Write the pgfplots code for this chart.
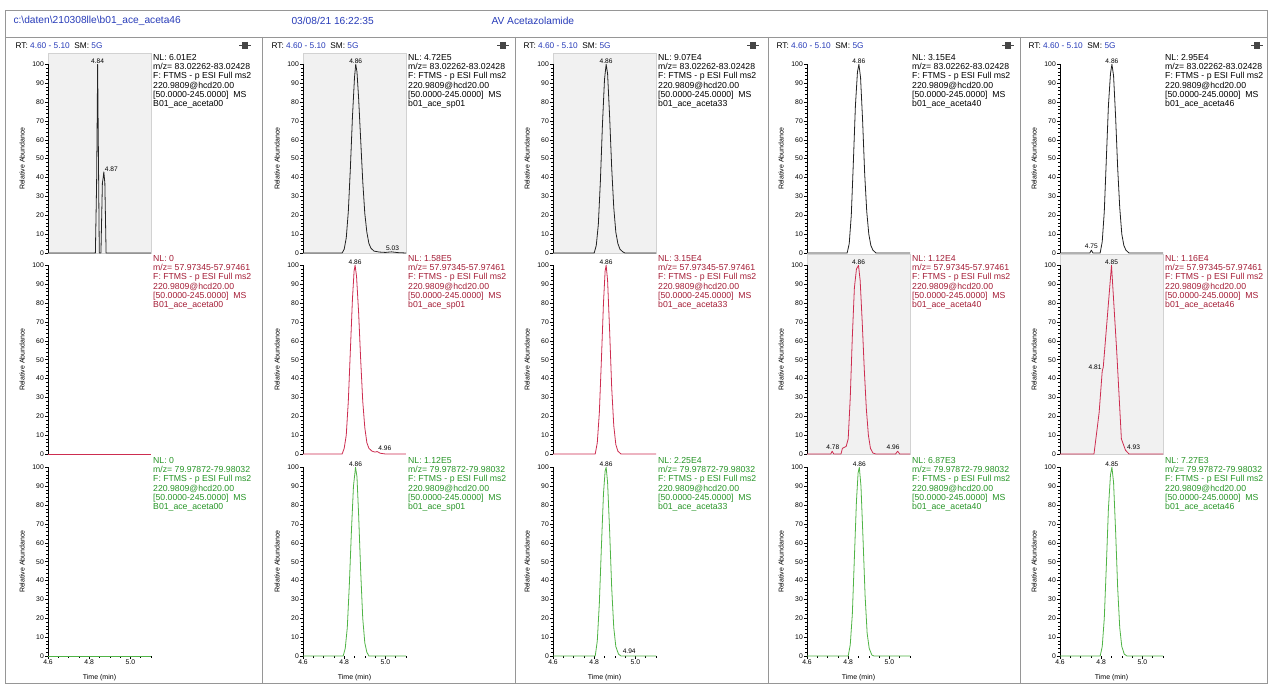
\documentclass[border=0pt]{standalone}
\usepackage{fontspec}
\setmainfont{Liberation Sans}
\usepackage{pgfplots}
\pgfplotsset{compat=1.18}

\definecolor{cblack}{RGB}{35,35,35}
\definecolor{cred}{RGB}{205,45,80}
\definecolor{cgreen}{RGB}{80,180,70}
\definecolor{tred}{RGB}{165,30,55}
\definecolor{tgreen}{RGB}{40,150,40}
\definecolor{tblue}{RGB}{40,60,185}
\definecolor{shade}{RGB}{241,241,241}
\definecolor{framec}{RGB}{150,150,150}

\newcommand{\infofont}{\fontsize{8.7}{9.3}\selectfont}
\newcommand{\pkfont}{\fontsize{6.6}{7}\selectfont}
\newcommand{\tkfont}{\fontsize{6.8}{7}\selectfont}
\newcommand{\ylfont}{\fontsize{7}{8}\selectfont}
\newcommand{\rtfont}{\fontsize{8.3}{9}\selectfont}
\newcommand{\hdrfont}{\fontsize{10.2}{11}\selectfont}

\pgfplotsset{
  chrom/.style={
    scale only axis, width=103pt, height=200pt,
    xmin=4.6, xmax=5.1, ymin=0, ymax=106,
    axis lines=left, axis line style={draw=none},
    clip=false, anchor=south west,
    ytick={0,10,...,100}, minor ytick={0,2,...,100},
    tick align=outside,
    major tick length=3pt, minor tick length=1.6pt,
    tick style={black, line width=0.5pt},
    /pgf/number format/assume math mode=true,
    yticklabel style={font=\tkfont, inner sep=1pt},
    xticklabel style={font=\tkfont, inner sep=1pt},
    xtick=\empty,
  },
  sel/.style={axis background/.style={fill=shade, draw=gray!35}},
  bot/.style={xtick={4.6,4.8,5.0}, xticklabels={4.6,4.8,5.0},
    minor xtick={4.65,4.7,4.75,4.85,4.9,4.95,5.05,5.1}},
}

\newcommand{\chrom}[6][]{%
\begin{axis}[chrom, at={(#2pt,#3pt)}, #1]
\draw[black, line width=0.6pt] (axis cs:4.6,0) -- (axis cs:4.6,100);
\addplot[#4, line width=0.8pt, line join=round, mark=none] coordinates {#5};
\node[rotate=90, font=\ylfont] at ([xshift=-26pt]axis cs:4.6,50) {Relative Abundance};
#6
\end{axis}}

\newcommand{\info}[4]{\node[anchor=north west, align=left, inner sep=0pt, text=#4, font=\infofont] at ([xshift=2pt,yshift=-1pt]rel axis cs:1,1) {NL: #1\\ m/z= #2\\ F: FTMS - p ESI Full ms2\\ 220.9809@hcd20.00\\{}[50.0000-245.0000]\ \ MS\\ #3};}
\newcommand{\pk}[3][south]{\node[anchor=#1, inner sep=0.6pt, font=\pkfont] at (axis cs:#2) {#3};}
\newcommand{\tm}{\node[font=\ylfont] at ([yshift=-22pt]axis cs:4.85,0) {Time (min)};}
\newcommand{\rt}[1]{\node[anchor=west, font=\rtfont] at (#1pt,-46pt) {RT: \textcolor{tblue}{4.60 - 5.10}\ \ SM: \textcolor{tblue}{5G}};}
\newcommand{\pin}[1]{%
  \fill[gray!55!black] (#1pt-3pt,-42pt) rectangle (#1pt+2pt,-49pt);
  \draw[gray!55!black, line width=1.2pt] (#1pt-6pt,-45.5pt) -- (#1pt+6pt,-45.5pt);
  \draw[gray!55!black, line width=0.8pt] (#1pt+2pt,-42pt) -- (#1pt+2pt,-49pt);}

\begin{document}
\begin{tikzpicture}
\useasboundingbox (0pt,0pt) rectangle (1270pt,-684pt);
\fill[white] (0pt,0pt) rectangle (1270pt,-684pt);
% frames
\draw[framec, line width=0.7pt] (5pt,-10pt) rectangle (1267pt,-683pt);
\draw[framec, line width=0.7pt] (5pt,-37pt) -- (1267pt,-37pt);
\foreach \xx in {262,515,768,1020} {\draw[framec, line width=0.7pt] (\xx pt,-37pt) -- (\xx pt,-683pt);}
% header
\node[anchor=west, text=tblue, font=\hdrfont] at (10pt,-21pt) {c:\textbackslash daten\textbackslash 210308lle\textbackslash b01\_ace\_aceta46};
\node[anchor=west, text=tblue, font=\hdrfont] at (288pt,-21pt) {03/08/21 16:22:35};
\node[anchor=west, text=tblue, font=\hdrfont] at (488pt,-21pt) {AV Acetazolamide};
\rt{12}\rt{268}\rt{520}\rt{773}\rt{1025}
\pin{245}\pin{503}\pin{753}\pin{1008}\pin{1257}

%%%%%%%%%%%%%%%% Column 1
\chrom[sel]{48}{-253}{cblack}{(4.60,0)(4.830,0)(4.836,37)(4.839,74)(4.841,100)(4.843,74)(4.846,37)(4.849,0)(4.857,0)(4.864,37)(4.868,40)(4.871,43)(4.876,37)(4.882,0)(5.10,0)}
{\info{6.01E2}{83.02262-83.02428}{B01\_ace\_aceta00}{black}
 \pk{4.841,100}{4.84}\pk[south west]{4.872,43}{4.87}}
\chrom{48}{-454}{cred}{(4.60,0)(5.10,0)}
{\info{0}{57.97345-57.97461}{B01\_ace\_aceta00}{tred}}
\chrom[bot]{48}{-656}{cgreen}{(4.60,0)(5.10,0)}
{\info{0}{79.97872-79.98032}{B01\_ace\_aceta00}{tgreen}\tm}

%%%%%%%%%%%%%%%% Column 2
\chrom[sel]{303}{-253}{cblack}{(4.60,0)(4.790,0)(4.800,2)(4.810,8)(4.820,22)(4.830,45)(4.840,72)(4.850,93)(4.856,100)(4.862,96)(4.870,82)(4.880,60)(4.890,38)(4.900,21)(4.910,11)(4.920,5)(4.930,2.5)(4.945,1)(4.970,0.5)(5.000,0.3)(5.030,0.6)(5.060,0.2)(5.10,0)}
{\info{4.72E5}{83.02262-83.02428}{b01\_ace\_sp01}{black}
 \pk{4.856,100}{4.86}\pk{5.035,1}{5.03}}
\chrom{303}{-454}{cred}{(4.60,0)(4.790,0)(4.800,3)(4.810,10)(4.820,28)(4.830,55)(4.840,82)(4.848,97)(4.853,100)(4.860,94)(4.870,75)(4.880,50)(4.890,28)(4.900,14)(4.910,6)(4.920,3)(4.935,1.5)(4.950,1)(4.960,1.3)(4.975,0.4)(5.000,0)(5.10,0)}
{\info{1.58E5}{57.97345-57.97461}{b01\_ace\_sp01}{tred}
 \pk{4.853,100}{4.86}\pk[south west]{4.962,1.5}{4.96}}
\chrom[bot]{303}{-656}{cgreen}{(4.60,0)(4.795,0)(4.805,4)(4.815,15)(4.825,38)(4.835,66)(4.845,90)(4.855,100)(4.862,95)(4.870,75)(4.880,45)(4.890,20)(4.900,7)(4.910,2)(4.920,0)(5.10,0)}
{\info{1.12E5}{79.97872-79.98032}{b01\_ace\_sp01}{tgreen}
 \pk{4.855,100}{4.86}\tm}

%%%%%%%%%%%%%%%% Column 3
\chrom[sel]{553}{-253}{cblack}{(4.60,0)(4.800,0)(4.810,4)(4.820,15)(4.830,38)(4.840,68)(4.850,92)(4.858,100)(4.865,95)(4.875,72)(4.885,45)(4.895,24)(4.905,11)(4.915,5)(4.925,2)(4.940,0.5)(4.950,0)(5.10,0)}
{\info{9.07E4}{83.02262-83.02428}{b01\_ace\_aceta33}{black}
 \pk{4.858,100}{4.86}}
\chrom{553}{-454}{cred}{(4.60,0)(4.805,0)(4.815,6)(4.825,22)(4.835,50)(4.845,80)(4.853,97)(4.858,100)(4.865,92)(4.875,65)(4.885,35)(4.895,15)(4.905,5)(4.915,1.5)(4.930,0)(5.10,0)}
{\info{3.15E4}{57.97345-57.97461}{b01\_ace\_aceta33}{tred}
 \pk{4.858,100}{4.86}}
\chrom[bot]{553}{-656}{cgreen}{(4.60,0)(4.805,0)(4.815,8)(4.825,28)(4.835,58)(4.845,86)(4.853,98)(4.858,100)(4.865,92)(4.875,66)(4.885,36)(4.895,15)(4.905,5)(4.918,1)(4.930,0)(5.10,0)}
{\info{2.25E4}{79.97872-79.98032}{b01\_ace\_aceta33}{tgreen}
 \pk{4.858,100}{4.86}\pk[south west]{4.935,1}{4.94}\tm}

%%%%%%%%%%%%%%%% Column 4
\chrom{807}{-253}{cblack}{(4.60,0)(4.795,0)(4.805,5)(4.815,20)(4.825,48)(4.835,78)(4.845,96)(4.852,100)(4.860,93)(4.870,70)(4.880,42)(4.890,22)(4.900,10)(4.910,4)(4.920,1.5)(4.935,0)(5.10,0)}
{\info{3.15E4}{83.02262-83.02428}{b01\_ace\_aceta40}{black}
 \pk{4.852,100}{4.86}}
\chrom[sel]{807}{-454}{cred}{(4.60,0)(4.715,0)(4.722,1.5)(4.730,0)(4.765,0)(4.772,3)(4.790,4)(4.800,8)(4.810,30)(4.820,62)(4.830,88)(4.840,98)(4.850,100)(4.858,92)(4.868,70)(4.878,45)(4.888,24)(4.898,10)(4.908,3)(4.920,0.5)(4.935,0)(5.030,0)(5.040,1.5)(5.050,0)(5.10,0)}
{\info{1.12E4}{57.97345-57.97461}{b01\_ace\_aceta40}{tred}
 \pk{4.850,100}{4.86}\pk{4.725,2}{4.78}\pk{5.018,2}{4.96}}
\chrom[bot]{807}{-656}{cgreen}{(4.60,0)(4.800,0)(4.810,6)(4.820,22)(4.830,52)(4.840,82)(4.848,97)(4.854,100)(4.862,90)(4.872,62)(4.882,32)(4.892,12)(4.902,4)(4.915,0.5)(4.925,0)(5.10,0)}
{\info{6.87E3}{79.97872-79.98032}{b01\_ace\_aceta40}{tgreen}
 \pk{4.854,100}{4.86}\tm}

%%%%%%%%%%%%%%%% Column 5
\chrom{1060}{-253}{cblack}{(4.60,0)(4.745,0)(4.752,1.5)(4.760,0)(4.795,0)(4.805,6)(4.815,22)(4.825,50)(4.835,78)(4.845,95)(4.852,100)(4.860,94)(4.870,72)(4.880,45)(4.890,24)(4.900,10)(4.910,4)(4.920,1.5)(4.935,0)(5.10,0)}
{\info{2.95E4}{83.02262-83.02428}{b01\_ace\_aceta46}{black}
 \pk{4.852,100}{4.86}\pk{4.752,2}{4.75}}
\chrom[sel]{1060}{-454}{cred}{(4.60,0)(4.765,0)(4.790,22)(4.805,44)(4.810,46)(4.850,100)(4.875,55)(4.898,8)(4.918,2)(4.935,0)(5.10,0)}
{\info{1.16E4}{57.97345-57.97461}{b01\_ace\_aceta46}{tred}
 \pk{4.850,100}{4.85}\pk[east]{4.805,46}{4.81}\pk[south west]{4.922,2}{4.93}}
\chrom[bot]{1060}{-656}{cgreen}{(4.60,0)(4.795,0)(4.805,5)(4.815,20)(4.825,48)(4.835,78)(4.845,96)(4.852,100)(4.860,92)(4.870,66)(4.880,36)(4.890,15)(4.900,5)(4.912,1)(4.925,0)(5.10,0)}
{\info{7.27E3}{79.97872-79.98032}{b01\_ace\_aceta46}{tgreen}
 \pk{4.852,100}{4.85}\tm}
\end{tikzpicture}
\end{document}
